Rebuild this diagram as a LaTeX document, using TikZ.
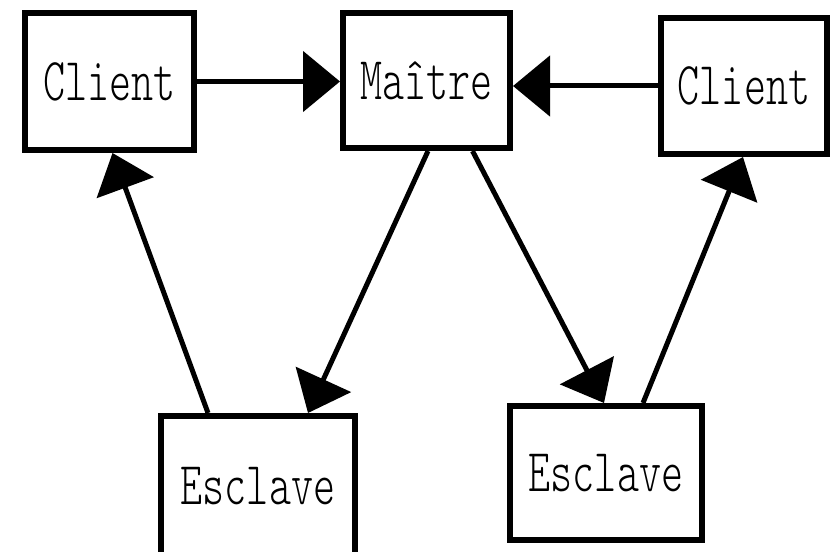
\documentclass[tikz,border=0pt]{standalone}
\usepackage{fontspec}
\newfontfamily\boxfont{Latin Modern Mono Light}
\usetikzlibrary{arrows.meta}
% labels are set tall and narrow
\newcommand\tall[1]{\scalebox{1}[1.45]{#1}}
\begin{document}
\begin{tikzpicture}[x=1bp,y=-1bp,
  box/.style={draw=black,line width=6bp,fill=white,inner sep=0pt,
    font=\boxfont\fontsize{42bp}{44bp}\selectfont},
  link/.style={line width=5bp,-{Triangle[length=37bp,width=60bp]}}]
  \useasboundingbox (0,0) rectangle (838,552);
  \clip (0,0) rectangle (838,552);
  \fill[white] (0,0) rectangle (838,552);
  % the five boxes
  \node[box,minimum width=169bp,minimum height=137bp] (c1) at (109.5,81.5) {\tall{Client}};
  \node[box,minimum width=167bp,minimum height=135bp] (m) at (426.5,80.5) {\tall{Maître}};
  \node[box,minimum width=166bp,minimum height=136bp] (c2) at (744,86) {\tall{Client}};
  \node[box,minimum width=194bp,minimum height=140bp] (e1) at (258,486) {\tall{Esclave}};
  \node[box,minimum width=192bp,minimum height=134bp] (e2) at (606,473) {\tall{Esclave}};
  % clients talk to the master
  \draw[link] (c1.east) -- (c1.east -| m.west);
  \draw[link] (c2.west) -- (c2.west -| m.east);
  % master dispatches to the slaves
  \draw[link] ([xshift=1.5bp]m.south) -- ([xshift=50bp]e1.north);
  \draw[link] ([xshift=46bp]m.south) -- ([xshift=-2bp]e2.north);
  % slaves answer the clients
  \draw[link] ([xshift=-50bp]e1.north) -- ([xshift=3bp]c1.south);
  \draw[link] ([xshift=37bp]e2.north) -- ([xshift=-1bp]c2.south);
\end{tikzpicture}
\end{document}
